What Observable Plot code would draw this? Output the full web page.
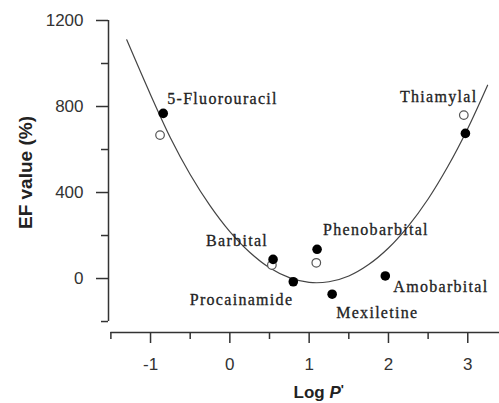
<!DOCTYPE html>
<html>
<head>
<meta charset="utf-8">
<script src="https://cdn.jsdelivr.net/npm/d3@7"></script>
<script src="https://cdn.jsdelivr.net/npm/@observablehq/plot@0.6"></script>
<style>
  html, body { margin: 0; padding: 0; background: #fff; }
</style>
</head>
<body>
<div id="chart"></div>
<script>
// ---- data ----
const compounds = ["5-Fluorouracil", "Barbital", "Procainamide", "Phenobarbital", "Mexiletine", "Amobarbital", "Thiamylal"];
const logP = [-0.84, 0.545, 0.80, 1.10, 1.29, 1.96, 2.97];
const efFilled = [768, 89, -15, 136, -73, 12, 675];

const openNames = ["5-Fluorouracil", "Barbital", "Phenobarbital", "Thiamylal"];
const openLogP = [-0.88, 0.53, 1.09, 2.95];
const openEF = [667, 63, 73, 760];

const curveLogP = [-1.30, -1.0, -0.75, -0.5, -0.25, 0, 0.25, 0.5, 0.75, 1.0, 1.25, 1.5, 1.75, 2.0, 2.25, 2.5, 2.75, 3.0, 3.25];
const curveEF = [1110, 855, 655, 484, 339, 218, 122, 50, 4, -18, -15, 12, 65, 142, 244, 370, 522, 698, 899];

const xMajor = [-1, 0, 1, 2, 3];
const xMinor = [-1.5, -0.5, 0.5, 1.5, 2.5];
const yMajor = [0, 400, 800, 1200];
const yMinor = [-200, 200, 600, 1000];

const xLabel = "Log P'";
const yLabel = "EF value (%)";

// ---- tables ----
const filled = compounds.map((c, i) => ({name: c, x: logP[i], y: efFilled[i]}));
const open = openNames.map((c, i) => ({name: c, x: openLogP[i], y: openEF[i]}));
const curve = curveLogP.map((x, i) => ({x, y: curveEF[i]}));

// label placement relative to each filled point
const labelPlace = {
  "5-Fluorouracil": {dx: 4, dy: -15, anchor: "start"},
  "Barbital": {dx: -5, dy: -19, anchor: "end"},
  "Procainamide": {dx: 0, dy: 18, anchor: "end"},
  "Phenobarbital": {dx: 6, dy: -19, anchor: "start"},
  "Mexiletine": {dx: 4, dy: 19, anchor: "start"},
  "Amobarbital": {dx: 8, dy: 11, anchor: "start"},
  "Thiamylal": {dx: 12, dy: -37, anchor: "end"}
};

const labelFont = {fontFamily: "Liberation Serif, Times New Roman, serif", fontSize: 16, fill: "#222", stroke: "#222", strokeWidth: 0.3};
const labelMarks = filled.map(d => Plot.text([d], {
  x: "x", y: "y", text: "name",
  dx: labelPlace[d.name].dx, dy: labelPlace[d.name].dy,
  textAnchor: labelPlace[d.name].anchor,
  ...labelFont
}));

const axisStyle = {stroke: "#333", strokeWidth: 1.5};
const tickText = {fontSize: 17, fontFamily: "Liberation Sans, Arial, sans-serif", fill: "#333"};

const plot = Plot.plot({
  width: 499,
  height: 403,
  marginLeft: 108,
  marginRight: 0,
  marginTop: 20,
  marginBottom: 71,
  style: {background: "white", fontFamily: "Liberation Sans, Arial, sans-serif", fontSize: "17px", overflow: "visible"},
  x: {domain: [-1.53, 3.4]},
  y: {domain: [-251, 1200]},
  marks: [
    // axis lines
    Plot.ruleX([-1.53], {y1: -200, y2: 1200, ...axisStyle}),
    Plot.ruleY([-251], {x1: -1.5, x2: 3.4, ...axisStyle}),
    // ticks
    Plot.axisY({ticks: yMajor, tickSize: 12, tickPadding: 13, label: null, tickFormat: d => String(d), ...tickText, strokeWidth: 1.5, stroke: "#333"}),
    Plot.axisY({ticks: yMinor, tickSize: 7, label: null, tickFormat: () => "", strokeWidth: 1.5, stroke: "#333"}),
    Plot.axisX({ticks: xMajor, tickSize: 11, tickPadding: 14, label: null, tickFormat: d => String(d), ...tickText, strokeWidth: 1.5, stroke: "#333"}),
    Plot.axisX({ticks: xMinor, tickSize: 7, label: null, tickFormat: () => "", strokeWidth: 1.5, stroke: "#333"}),
    // fitted curve
    Plot.line(curve, {x: "x", y: "y", curve: "catmull-rom", stroke: "#444", strokeWidth: 1.2}),
    // open circles
    Plot.dot(open, {x: "x", y: "y", r: 4.3, fill: "white", stroke: "#555", strokeWidth: 1.2}),
    // filled circles
    Plot.dot(filled, {x: "x", y: "y", r: 4.8, fill: "#000", stroke: "none"}),
    // labels
    ...labelMarks,
    // axis titles
    Plot.text([yLabel], {y: [493], frameAnchor: "left", textAnchor: "middle", dx: -83, rotate: -90, fontWeight: "bold", fontSize: 19, fill: "#222", fontFamily: "Liberation Sans, Arial, sans-serif"}),
    Plot.text([xLabel], {x: [1.12], frameAnchor: "bottom", dy: 65, fontWeight: "bold", fontSize: 17, fill: "#222", fontFamily: "Liberation Sans, Arial, sans-serif"})
  ]
});

// post-process: letter spacing on compound labels, italic P in x title
d3.select(plot).selectAll("text").each(function() {
  const t = this.textContent;
  if (compounds.includes(t)) {
    this.style.letterSpacing = "1.3px";
  }
  if (t === xLabel) {
    const sel = d3.select(this);
    sel.text(null);
    sel.append("tspan").text("Log ");
    sel.append("tspan").attr("font-style", "italic").text("P");
    sel.append("tspan").attr("font-size", 13).attr("dy", "-0.3em").text("'");
  }
});

document.getElementById("chart").appendChild(plot);
</script>
</body>
</html>
